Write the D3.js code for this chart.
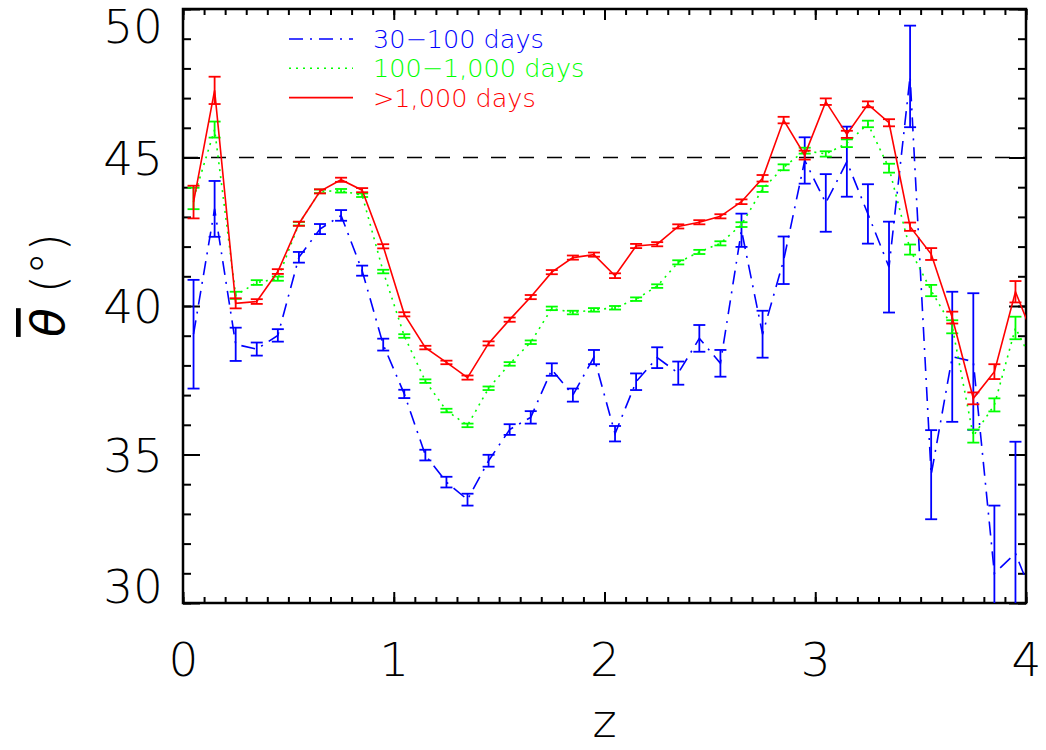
<!DOCTYPE html>
<html>
<head>
<meta charset="utf-8">
<script src="https://cdn.jsdelivr.net/npm/d3@7"></script>
<style>
  body { margin: 0; background: #fff; }
  text { font-family: "DejaVu Sans ExtraLight", "DejaVu Sans", sans-serif; font-weight: 200; }
</style>
</head>
<body>
<div id="chart"></div>
<script>
// bin centres in z (last one sits just past the frame, the lines run into it)
const zBins = [0.05, 0.15, 0.25, 0.35, 0.45, 0.55, 0.65, 0.75, 0.85, 0.95,
  1.05, 1.15, 1.25, 1.35, 1.45, 1.55, 1.65, 1.75, 1.85, 1.95,
  2.05, 2.15, 2.25, 2.35, 2.45, 2.55, 2.65, 2.75, 2.85, 2.95,
  3.05, 3.15, 3.25, 3.35, 3.45, 3.55, 3.65, 3.75, 3.85, 3.95, 4.05];

const theta30 = [39.05, 43.27, 38.71, 38.55, 39.01, 41.64, 42.59, 43.05, 41.19, 38.7,
  37.04, 34.98, 34.07, 33.48, 34.79, 35.84, 36.25, 37.86, 37.0, 38.28,
  35.7, 37.45, 38.26, 37.74, 38.91, 38.07, 42.55, 39.05, 41.54, 44.9,
  43.47, 44.86, 43.1, 41.31, 47.73, 34.32, 38.29, 38.13, 31.0, 31.67, 29.9];
const err30 = [1.83, 0.94, 0.56, 0.22, 0.21, 0.18, 0.17, 0.18, 0.17, 0.2,
  0.14, 0.18, 0.18, 0.2, 0.2, 0.18, 0.21, 0.21, 0.22, 0.24,
  0.26, 0.28, 0.35, 0.39, 0.45, 0.45, 0.56, 0.79, 0.8, 0.78,
  0.97, 1.18, 1.0, 1.53, 1.71, 1.5, 2.19, 2.3, 2.28, 3.76, null];

const theta100 = [43.62, 45.94, 40.36, 40.79, 40.92, 42.77, 43.86, 43.88, 43.73, 41.16,
  38.99, 37.47, 36.48, 35.98, 37.23, 38.05, 38.78, 39.92, 39.78, 39.87,
  39.94, 40.23, 40.67, 41.47, 41.82, 42.11, 42.74, 43.94, 44.67, 45.23,
  45.12, 45.48, 46.13, 44.64, 41.9, 40.52, 39.3, 35.62, 36.67, 39.26, 37.85];
const err100 = [0.36, 0.27, 0.12, 0.08, 0.07, 0.06, 0.06, 0.06, 0.06, 0.06,
  0.06, 0.06, 0.06, 0.06, 0.06, 0.06, 0.06, 0.06, 0.06, 0.06,
  0.06, 0.06, 0.06, 0.07, 0.07, 0.07, 0.08, 0.1, 0.1, 0.1,
  0.09, 0.13, 0.11, 0.15, 0.17, 0.19, 0.22, 0.22, 0.22, 0.38, null];

const theta1000 = [43.5, 47.26, 40.09, 40.15, 41.16, 42.77, 43.86, 44.25, 43.9, 42.01,
  39.72, 38.6, 38.1, 37.59, 38.74, 39.54, 40.3, 41.14, 41.63, 41.73,
  41.02, 42.02, 42.08, 42.68, 42.82, 43.02, 43.51, 44.3, 46.26, 45.08,
  46.88, 45.78, 46.79, 46.17, 42.67, 41.75, 39.61, 36.89, 37.79, 40.48, 38.7];
const err1000 = [0.55, 0.46, 0.17, 0.08, 0.08, 0.07, 0.07, 0.07, 0.07, 0.07,
  0.07, 0.06, 0.06, 0.07, 0.07, 0.07, 0.07, 0.07, 0.07, 0.07,
  0.08, 0.07, 0.07, 0.07, 0.07, 0.07, 0.08, 0.11, 0.11, 0.15,
  0.11, 0.12, 0.1, 0.12, 0.14, 0.2, 0.2, 0.2, 0.25, 0.36, null];

const xTicks = [0, 1, 2, 3, 4];
const yTicks = [30, 35, 40, 45, 50];
const refAngle = 45;

const series = [
  {name: "30\u2212100 days", vals: theta30, err: err30, color: "#0000ff", dash: "14,7,2,7"},
  {name: "100\u22121,000 days", vals: theta100, err: err100, color: "#00ff00", dash: "2,5"},
  {name: ">1,000 days", vals: theta1000, err: err1000, color: "#ff0000", dash: null}
];

const width = 1046, height = 750;
const margin = {left: 183, right: 20, top: 9, bottom: 147};
const iw = width - margin.left - margin.right;
const ih = height - margin.top - margin.bottom;

const svg = d3.select("#chart").append("svg")
  .attr("width", width)
  .attr("height", height);

const x = d3.scaleLinear().domain([0, 4]).range([0, iw]);
const y = d3.scaleLinear().domain([30, 50]).range([ih, 0]);

svg.append("defs").append("clipPath").attr("id", "clip")
  .append("rect").attr("width", iw).attr("height", ih);

const g = svg.append("g").attr("transform", `translate(${margin.left},${margin.top})`);

const xMinor = d3.range(0, 41).map(d => d / 10);
const yMinor = d3.range(30, 51);

function tickAxis(axis, tr) {
  const a = g.append("g").attr("transform", tr || null).call(axis);
  a.select(".domain").remove();
  a.selectAll("line").attr("stroke", "#000").attr("stroke-width", 2);
  return a;
}
// minor + major ticks pointing inward, on all four sides
tickAxis(d3.axisBottom(x).tickValues(xMinor).tickSize(-6).tickFormat(""), `translate(0,${ih})`);
tickAxis(d3.axisTop(x).tickValues(xMinor).tickSize(-6).tickFormat(""));
tickAxis(d3.axisBottom(x).tickValues(xTicks).tickSize(-11).tickFormat(""), `translate(0,${ih})`);
tickAxis(d3.axisTop(x).tickValues(xTicks).tickSize(-11).tickFormat(""));
tickAxis(d3.axisLeft(y).tickValues(yMinor).tickSize(-8).tickFormat(""));
tickAxis(d3.axisRight(y).tickValues(yMinor).tickSize(-8).tickFormat(""), `translate(${iw},0)`);
tickAxis(d3.axisLeft(y).tickValues(yTicks).tickSize(-17).tickFormat(""));
tickAxis(d3.axisRight(y).tickValues(yTicks).tickSize(-17).tickFormat(""), `translate(${iw},0)`);

// tick labels
const xl = g.append("g").attr("transform", `translate(0,${ih})`)
  .call(d3.axisBottom(x).tickValues(xTicks).tickSize(0).tickPadding(40).tickFormat(d3.format("d")));
xl.select(".domain").remove();
xl.selectAll("text").attr("font-size", 47).attr("fill", "#000");

const yl = g.append("g")
  .call(d3.axisLeft(y).tickValues(yTicks).tickSize(0).tickPadding(20).tickFormat(d3.format("d")));
yl.select(".domain").remove();
yl.selectAll("text").attr("font-size", 47).attr("fill", "#000")
  .attr("dy", d => d === 50 ? "0.72em" : d === 30 ? "-0.02em" : "0.36em");

// frame
g.append("rect").attr("width", iw).attr("height", ih)
  .attr("fill", "none").attr("stroke", "#000").attr("stroke-width", 2.5);

// 45 degree reference
g.append("line")
  .attr("x1", 0).attr("x2", iw)
  .attr("y1", y(refAngle)).attr("y2", y(refAngle))
  .attr("stroke", "#000").attr("stroke-width", 1.5)
  .attr("stroke-dasharray", "15,13");

const plot = g.append("g").attr("clip-path", "url(#clip)");
const line = d3.line().x(d => x(d.z)).y(d => y(d.v));

series.forEach(s => {
  const pts = zBins.map((z, i) => ({z: z, v: s.vals[i], e: s.err[i]}));
  plot.append("path").datum(pts)
    .attr("d", line)
    .attr("fill", "none")
    .attr("stroke", s.color)
    .attr("stroke-width", 1.6)
    .attr("stroke-dasharray", s.dash);

  const bars = plot.append("g").selectAll("g")
    .data(pts.filter(d => d.e != null))
    .join("g")
    .attr("stroke", s.color)
    .attr("stroke-width", 1.8);
  bars.append("line")
    .attr("x1", d => x(d.z)).attr("x2", d => x(d.z))
    .attr("y1", d => y(d.v - d.e)).attr("y2", d => y(d.v + d.e));
  bars.append("line")
    .attr("x1", d => x(d.z) - 6).attr("x2", d => x(d.z) + 6)
    .attr("y1", d => y(d.v - d.e)).attr("y2", d => y(d.v - d.e));
  bars.append("line")
    .attr("x1", d => x(d.z) - 6).attr("x2", d => x(d.z) + 6)
    .attr("y1", d => y(d.v + d.e)).attr("y2", d => y(d.v + d.e));
});

// legend
const leg = g.append("g").attr("transform", "translate(106,30)");
series.forEach((s, i) => {
  const row = leg.append("g").attr("transform", `translate(0,${i * 29.3})`);
  row.append("line").attr("x1", 0).attr("x2", 64)
    .attr("stroke", s.color).attr("stroke-width", 1.6)
    .attr("stroke-dasharray", s.dash);
  row.append("text").attr("x", 84).attr("dy", "0.36em")
    .attr("font-size", 25.5).attr("fill", s.color).text(s.name);
});

// axis titles
svg.append("text")
  .attr("x", margin.left + iw / 2).attr("y", 737)
  .attr("text-anchor", "middle").attr("font-size", 46).text("z");

const yt = svg.append("text")
  .attr("transform", "translate(64,285) rotate(-90)")
  .attr("text-anchor", "middle").attr("font-size", 47);
yt.append("tspan").attr("font-style", "italic")
  .style("text-decoration", "overline").text("\u03b8");
yt.append("tspan").text(" (\u00b0)");
</script>
</body>
</html>
